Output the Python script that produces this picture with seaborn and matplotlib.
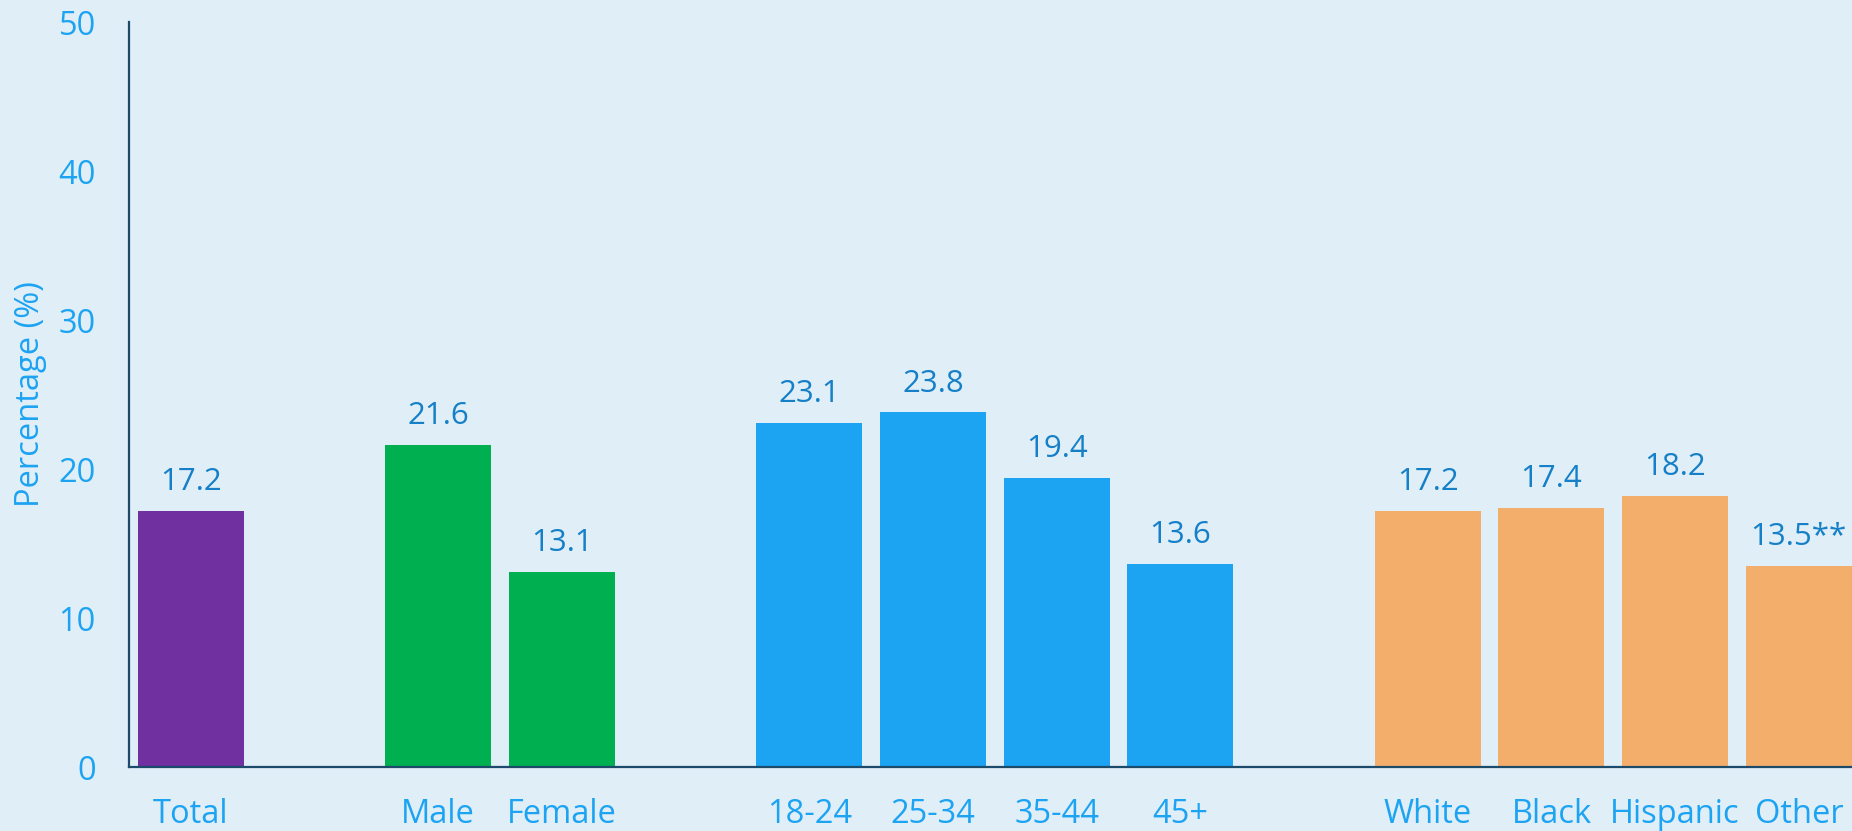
import pandas as pd
import matplotlib
matplotlib.use("Agg")
import matplotlib.pyplot as plt
import seaborn as sns

# Values
categories = ["Total", "Male", "Female", "18-24", "25-34", "35-44", "45+",
              "White", "Black", "Hispanic", "Other"]
values = [17.2, 21.6, 13.1, 23.1, 23.8, 19.4, 13.6, 17.2, 17.4, 18.2, 13.5]
value_labels = ["17.2", "21.6", "13.1", "23.1", "23.8", "19.4", "13.6",
                "17.2", "17.4", "18.2", "13.5**"]
groups = ["Total", "Sex", "Sex", "Age", "Age", "Age", "Age",
          "Race", "Race", "Race", "Race"]
y_ticks = [0, 10, 20, 30, 40, 50]

# empty slots between the groups
order = ["Total", " ", "Male", "Female", "  ", "18-24", "25-34", "35-44", "45+",
         "   ", "White", "Black", "Hispanic", "Other"]

group_colors = {"Total": "#7030A0", "Sex": "#00B050", "Age": "#1CA3F2", "Race": "#F4AE6C"}
palette = {c: group_colors[g] for c, g in zip(categories, groups)}

df = pd.DataFrame({"Category": categories, "Value": values, "Group": groups})

bg = "#E0EEF7"
tick_blue = "#1CA3F2"
label_blue = "#1580C8"
spine_col = "#1B4A6B"

sns.set_style("white")
plt.rcParams["font.family"] = ["Open Sans", "DejaVu Sans"]

fig = plt.figure(figsize=(18.52, 8.31), dpi=100, facecolor=bg)
ax = fig.add_axes([0.0697, 0.077, 0.9303, 0.8965])
ax.set_facecolor(bg)

sns.barplot(data=df, x="Category", y="Value", hue="Category", order=order,
            hue_order=categories, palette=palette, dodge=False, width=0.857,
            legend=False, saturation=1, linewidth=0, ax=ax)

for cont, lab in zip(ax.containers, value_labels):
    ax.bar_label(cont, labels=[lab], padding=10, fontsize=22.5, color=label_blue)

ax.set_ylim(0, 50)
ax.set_xlim(-0.5, 13.43)
ax.set_yticks(y_ticks)
ax.set_xlabel("")
ax.set_ylabel("Percentage (%)", fontsize=23.5, color=tick_blue, labelpad=8)

for side in ["top", "right"]:
    ax.spines[side].set_visible(False)
for side in ["left", "bottom"]:
    ax.spines[side].set_color(spine_col)
    ax.spines[side].set_linewidth(1.6)

ax.tick_params(axis="y", direction="in", length=8, width=1.6, color=spine_col,
               labelsize=23.5, labelcolor=tick_blue, pad=24)
ax.tick_params(axis="x", length=0, labelsize=23.5, labelcolor=tick_blue, pad=22)

fig.savefig("out.png", dpi=100, facecolor=bg)
